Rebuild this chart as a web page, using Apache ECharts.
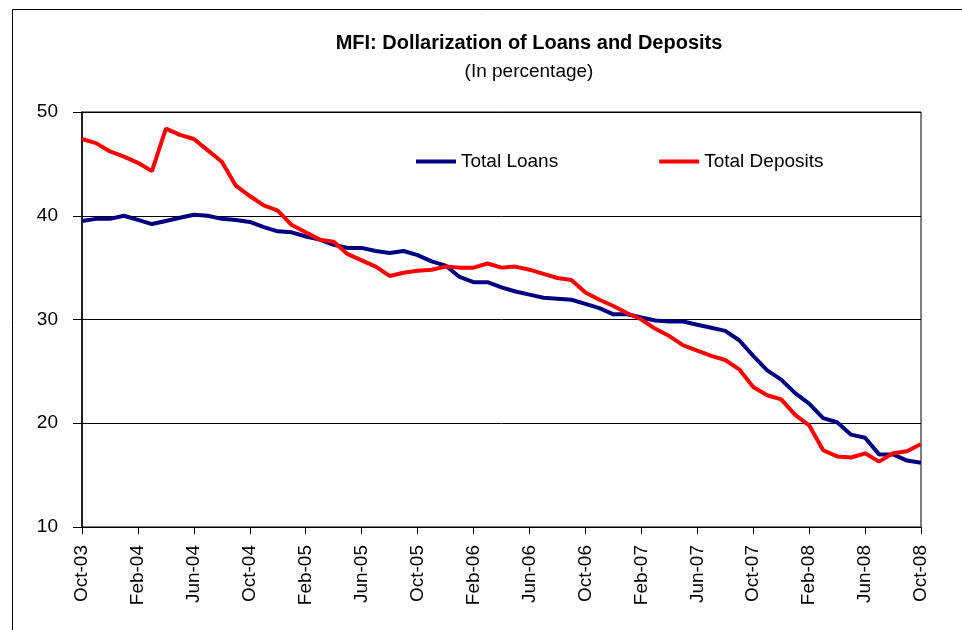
<!DOCTYPE html>
<html>
<head>
<meta charset="utf-8">
<script src="https://cdn.jsdelivr.net/npm/echarts@6/dist/echarts.min.js"></script>
<style>
  html, body { margin: 0; padding: 0; background: #fff; }
  #chart-wrapper { width: 962px; height: 630px; }
</style>
</head>
<body>
<div id="chart-wrapper"></div>
<script>
const months = [
  'Oct-03', 'Nov-03', 'Dec-03', 'Jan-04', 'Feb-04', 'Mar-04', 'Apr-04', 'May-04', 'Jun-04', 'Jul-04', 'Aug-04', 'Sep-04',
  'Oct-04', 'Nov-04', 'Dec-04', 'Jan-05', 'Feb-05', 'Mar-05', 'Apr-05', 'May-05', 'Jun-05', 'Jul-05', 'Aug-05', 'Sep-05',
  'Oct-05', 'Nov-05', 'Dec-05', 'Jan-06', 'Feb-06', 'Mar-06', 'Apr-06', 'May-06', 'Jun-06', 'Jul-06', 'Aug-06', 'Sep-06',
  'Oct-06', 'Nov-06', 'Dec-06', 'Jan-07', 'Feb-07', 'Mar-07', 'Apr-07', 'May-07', 'Jun-07', 'Jul-07', 'Aug-07', 'Sep-07',
  'Oct-07', 'Nov-07', 'Dec-07', 'Jan-08', 'Feb-08', 'Mar-08', 'Apr-08', 'May-08', 'Jun-08', 'Jul-08', 'Aug-08', 'Sep-08',
  'Oct-08'
]

const totalLoans = [
  39.5, 39.7, 39.7, 40.0, 39.6, 39.2, 39.5, 39.8, 40.1, 40.0, 39.7, 39.6,
  39.4, 38.9, 38.5, 38.4, 38.0, 37.7, 37.2, 36.9, 36.9, 36.6, 36.4, 36.6,
  36.2, 35.6, 35.2, 34.1, 33.6, 33.6, 33.1, 32.7, 32.4, 32.1, 32.0, 31.9,
  31.5, 31.1, 30.5, 30.5, 30.2, 29.9, 29.8, 29.8, 29.5, 29.2, 28.9, 28.0,
  26.5, 25.1, 24.2, 22.9, 21.9, 20.5, 20.1, 18.9, 18.6, 17.0, 17.0, 16.4,
  16.2
]

const totalDeposits = [
  47.4, 47.0, 46.2, 45.7, 45.1, 44.3, 48.4, 47.8, 47.4, 46.3, 45.2, 42.9,
  41.9, 41.0, 40.5, 39.1, 38.4, 37.7, 37.5, 36.3, 35.7, 35.1, 34.2, 34.5,
  34.7, 34.8, 35.1, 35.0, 35.0, 35.4, 35.0, 35.1, 34.8, 34.4, 34.0, 33.8,
  32.6, 31.9, 31.3, 30.6, 30.0, 29.1, 28.4, 27.5, 27.0, 26.5, 26.1, 25.2,
  23.5, 22.7, 22.3, 20.8, 19.8, 17.4, 16.8, 16.7, 17.1, 16.3, 17.1, 17.3,
  18.0
]

const seriesNames = ['Total Loans', 'Total Deposits']
const yTicks = { min: 10, max: 50, interval: 10 }

const font = "'Liberation Sans', Arial, sans-serif"

const chartDom = document.getElementById('chart-wrapper')
const chart = echarts.init(chartDom, null, { renderer: 'canvas' })

const option = {
  backgroundColor: '#fff',
  animation: false,
  textStyle: { fontFamily: font, color: '#000' },
  title: {
    text: 'MFI: Dollarization of Loans and Deposits',
    subtext: '(In percentage)',
    left: 524,
    textAlign: 'center',
    top: 28,
    itemGap: 9,
    textStyle: { fontFamily: font, fontSize: 20, fontWeight: 'bold', color: '#000' },
    subtextStyle: { fontFamily: font, fontSize: 19, color: '#000' }
  },
  legend: {
    left: 411,
    top: 147,
    icon: 'rect',
    itemWidth: 40,
    itemHeight: 4,
    itemGap: 101,
    textStyle: { fontFamily: font, fontSize: 19, color: '#000' },
    data: seriesNames
  },
  graphic: [
    {
      type: 'rect',
      left: 10,
      top: 7,
      shape: { width: 1000, height: 700 },
      style: { fill: 'none', stroke: '#000', lineWidth: 1 },
      silent: true
    }
  ],
  grid: {
    left: 82,
    right: 41,
    top: 112,
    bottom: 103,
    show: true,
    borderColor: '#000',
    borderWidth: 1
  },
  xAxis: {
    type: 'category',
    data: months,
    boundaryGap: false,
    axisLine: { lineStyle: { color: '#000', width: 1 } },
    axisTick: { show: true, interval: 3, length: 7, lineStyle: { color: '#000' } },
    axisLabel: {
      interval: 3,
      rotate: 90,
      margin: 18,
      fontFamily: font,
      fontSize: 19,
      color: '#000'
    },
    splitLine: { show: false }
  },
  yAxis: {
    type: 'value',
    min: yTicks.min,
    max: yTicks.max,
    interval: yTicks.interval,
    axisLine: { show: true, lineStyle: { color: '#000', width: 1.5 } },
    axisTick: { show: true, length: 9, lineStyle: { color: '#000' } },
    axisLabel: { margin: 24, fontFamily: font, fontSize: 19, color: '#000' },
    splitLine: { show: true, lineStyle: { color: '#000', width: 1 } }
  },
  series: [
    {
      name: seriesNames[0],
      type: 'line',
      data: totalLoans,
      symbol: 'none',
      color: '#000080',
      lineStyle: { color: '#000080', width: 4 },
      z: 3
    },
    {
      name: seriesNames[1],
      type: 'line',
      data: totalDeposits,
      symbol: 'none',
      color: '#ff0000',
      lineStyle: { color: '#ff0000', width: 4 },
      z: 4
    }
  ]
}

chart.setOption(option)
</script>
</body>
</html>
